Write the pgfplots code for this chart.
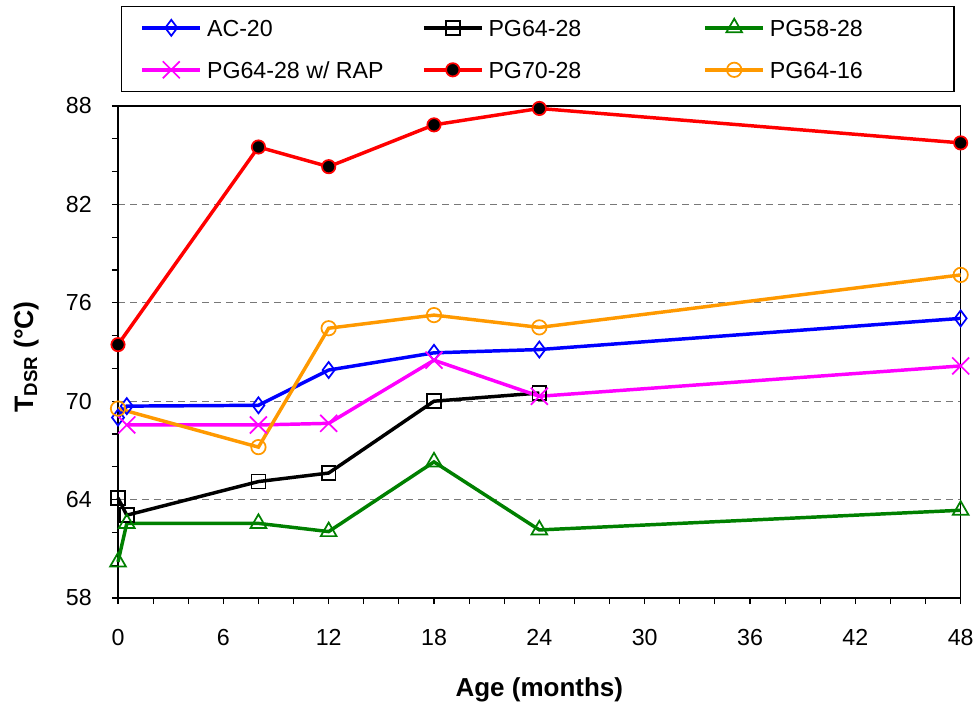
\documentclass[border=0pt]{standalone}
\usepackage{pgfplots}
\pgfplotsset{compat=1.18}
\usepackage{fontspec}
\setmainfont{Liberation Sans}

\definecolor{serBlue}{RGB}{0,0,255}
\definecolor{serGreen}{RGB}{0,128,0}
\definecolor{serMagenta}{RGB}{255,0,255}
\definecolor{serRed}{RGB}{255,0,0}
\definecolor{serOrange}{RGB}{255,153,0}
\definecolor{gridgray}{RGB}{120,120,120}

\newcommand{\lbl}[2]{\makebox[#1][l]{#2}}

\begin{document}
\begin{tikzpicture}
\useasboundingbox (0,0) rectangle (732.75pt,530.25pt);
\begin{axis}[
  at={(88.5pt,81.75pt)}, anchor=south west,
  scale only axis, width=632pt, height=369pt,
  xmin=0, xmax=48, ymin=58, ymax=88,
  xtick={0,6,...,48}, ytick={58,64,...,88},
  minor x tick num=2, minor y tick num=2,
  tick pos=left, tick align=outside,
  major tick length=4.5pt, minor tick length=4.5pt,
  every tick/.style={black, line width=0.9pt},
  axis line style={black, line width=1.2pt},
  ymajorgrids,
  major grid style={gridgray, line width=1pt, dash pattern=on 5.25pt off 3.75pt},
  /pgf/number format/assume math mode=true,
  ticklabel style={font=\fontsize{17.4}{20}\selectfont},
  yticklabel style={inner sep=0pt, xshift=-15pt},
  xticklabel style={inner sep=0pt, yshift=-19pt},
  xlabel={\textbf{Age (months)}},
  ylabel={\textbf{T\textsubscript{DSR} (°C)}},
  xlabel style={font=\fontsize{19.5}{22}\selectfont, at={(axis description cs:0.5,-0.187)}, anchor=center},
  ylabel style={font=\fontsize{20}{22}\selectfont, at={(axis description cs:-0.109,0.49)}, anchor=center, rotate=0},
  clip=false,
  legend columns=3,
  legend cell align=left,
  legend style={at={(axis description cs:0.0032,1.2039)}, anchor=north west,
    draw=black, line width=0.8pt, fill=white,
    font=\fontsize{17.4}{20}\selectfont,
    inner xsep=14.5pt, inner ysep=8.5pt, row sep=16.1pt, column sep=0pt,
    nodes={inner sep=0pt, text height=14pt, text depth=1.4pt}},
  legend image code/.code={%
    \draw[mark repeat=2,mark phase=2] plot coordinates {(0pt,0pt) (21.75pt,0pt) (43.5pt,0pt)};
    \path (47.25pt,0pt);},
]

% AC-20
\addplot[serBlue, line width=2.6pt, mark=diamond, mark size=6pt,
  mark options={solid, line width=1.3pt, fill=none}]
  coordinates {(0,69.0) (0.5,69.7) (8,69.75) (12,71.9) (18,72.95) (24,73.15) (48,75.05)};
\addlegendentry{\lbl{161.25pt}{AC-20}}

% PG64-28
\addplot[black, line width=2.6pt, mark=square, mark size=5.2pt,
  mark options={solid, line width=1.3pt, fill=none}]
  coordinates {(0,64.1) (0.5,63.05) (8,65.1) (12,65.62) (18,70.0) (24,70.5)};
\addlegendentry{\lbl{161.25pt}{PG64-28}}

% PG58-28
\addplot[serGreen, line width=2.6pt, mark=triangle, mark size=6.8pt,
  mark options={solid, line width=1.3pt, fill=none}]
  coordinates {(0,60.2) (0.5,62.55) (8,62.55) (12,62.05) (18,66.3) (24,62.15) (48,63.35)};
\addlegendentry{\lbl{123.5pt}{PG58-28}}

% PG64-28 w/ RAP
\addplot[serMagenta, line width=2.6pt, mark=x, mark size=9pt,
  mark options={solid, line width=1.3pt}]
  coordinates {(0.5,68.55) (8,68.55) (12,68.65) (18,72.5) (24,70.3) (48,72.15)};
\addlegendentry{\lbl{161.25pt}{PG64-28 w/ RAP}}

% PG70-28
\addplot[serRed, line width=2.6pt, mark=*, mark size=5pt,
  mark options={solid, line width=1.3pt, draw=serRed, fill=black}]
  coordinates {(0,73.45) (8,85.5) (12,84.3) (18,86.85) (24,87.85) (48,85.75)};
\addlegendentry{\lbl{161.25pt}{PG70-28}}

% PG64-16
\addplot[serOrange, line width=2.6pt, mark=o, mark size=5.4pt,
  mark options={solid, line width=1.3pt}]
  coordinates {(0,69.55) (8,67.2) (12,74.45) (18,75.25) (24,74.5) (48,77.7)};
\addlegendentry{\lbl{123.5pt}{PG64-16}}

\end{axis}
\end{tikzpicture}
\end{document}
